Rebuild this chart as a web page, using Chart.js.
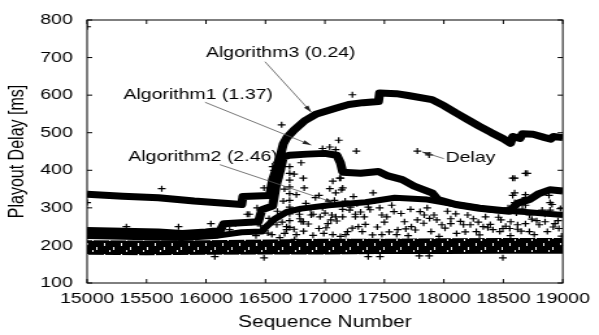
<!DOCTYPE html>
<html>
<head>
<meta charset="utf-8">
<script src="https://cdn.jsdelivr.net/npm/chart.js@4.4.0/dist/chart.umd.min.js"></script>
<style>
  html, body { margin: 0; padding: 0; background: #fff; overflow: hidden; }
  /* the source picture is stretched sideways, so the whole chart is too */
  #wrap { width: 461px; height: 335px; transform: scaleX(1.2993); transform-origin: 0 0; }
</style>
</head>
<body>
<div id="wrap"><canvas id="chart-playout" width="461" height="335"></canvas></div>
<script>
// axis ticks
const xTickValues = [15000, 15500, 16000, 16500, 17000, 17500, 18000, 18500, 19000];
const yTickValues = [100, 200, 300, 400, 500, 600, 700, 800];

// Algorithm3 (0.24) — the upper curve
const algo3Seq = [15000, 15300, 15600, 15900, 16300, 16310, 16535, 16560, 16610, 16650, 16680, 16740, 16830, 16930, 17090, 17200, 17320, 17450, 17460, 17600, 17700, 17900, 18000, 18100, 18200, 18300, 18400, 18500, 18560, 18580, 18640, 18660, 18750, 18850, 18900, 18920, 19000];
const algo3Delay = [336, 331, 327, 318, 309, 330, 333, 375, 420, 470, 487, 507, 532, 550, 565, 575, 580, 583, 606, 604, 599, 588, 572, 553, 535, 517, 500, 484, 472, 490, 485, 497, 496, 487, 483, 490, 487];

// Algorithm1 (1.37) — the stepped curve
const algo1Seq = [15000, 15300, 15600, 15800, 16000, 16120, 16150, 16440, 16470, 16560, 16590, 16625, 16650, 16700, 16850, 17000, 17100, 17130, 17150, 17300, 17450, 17530, 17650, 17750, 17900, 17950, 18100, 18300, 18550, 18580, 18620, 18720, 18800, 18890, 19000];
const algo1Delay = [240, 238, 236, 232, 236, 240, 258, 263, 295, 305, 360, 400, 435, 440, 443, 445, 440, 420, 395, 392, 397, 385, 375, 358, 340, 322, 309, 299, 291, 300, 312, 322, 338, 348, 345];

// Algorithm2 (2.46) — the smooth lower curve
const algo2Seq = [15000, 15500, 15800, 16100, 16300, 16470, 16500, 16580, 16680, 16800, 17033, 17340, 17587, 17860, 18140, 18413, 18686, 19000];
const algo2Delay = [225, 222, 220, 226, 235, 237, 248, 271, 289, 298, 307, 315, 327, 322, 307, 294, 289, 281];

// Delay: the dense floor of packets
const floorSeq = [15000, 15500, 16000, 16500, 17000, 17500, 18000, 18500, 19000];
const floorLow = [175, 174, 175, 176, 176, 177, 177, 178, 178];
const floorHigh = [214, 213, 214, 216, 218, 218, 219, 220, 220];

// Delay: single packets above / below the floor
const delaySeq = [15000, 15000, 15628, 15331, 15769, 16041, 16198, 16248, 16074, 16347, 16364, 16488, 16488, 16554,
  16570, 16570, 16570, 16570, 16595, 16636, 16661, 16678, 16678,
  16703, 16703, 16703, 16703, 16703, 16703, 16703, 16703, 16703, 16703,
  16744, 16760, 16785, 16802, 16818, 16826, 16818, 16884, 16901, 16950, 16950, 16959, 17025, 17041, 17058, 17066, 17066,
  17091, 17091, 17116, 17124, 17132, 17140, 17149, 17149, 17149, 17174, 17190, 17207, 17215, 17231, 17256, 17256, 17264,
  17281, 17314, 17364, 17364, 17405, 17463, 17479, 17479, 17521, 17562, 17603, 17612, 17669, 17727, 17777, 17777, 17793,
  17835, 17876, 17876, 17893, 17917, 17983, 18058, 18058, 18107, 18165, 18223, 18248, 18273, 18331, 18413, 18438, 18471,
  18496, 18496, 18554, 18562, 18579, 18595, 18579, 18595, 18595, 18620, 18686, 18686, 18686, 18686, 18686, 18702, 18719,
  18802, 18826, 18851, 18884, 18893, 18893, 18909, 18934, 18967,
  16420, 16520, 16620, 16820, 16900, 16990, 17130, 17230, 17400, 17540, 17700, 17760, 17960, 18180, 18300, 18370, 18560, 18650, 18760, 18870, 18990,
  16460, 16640, 16740, 16860, 17010, 17100, 17340, 17440, 17680, 17830, 18010, 18140, 18390, 18520, 18620, 18780, 18920,
  16790, 16880, 17050, 17300, 17500, 17880, 18100, 18290, 18460, 18740, 18960,
  16530, 16600, 16650, 16760, 16840, 16920, 16980, 17000, 17080, 17170, 17240, 17270, 17330, 17380, 17420, 17460, 17580,
  17640, 17720, 17800, 17860, 17940, 18030, 18200, 18350, 18480, 18540, 18610, 18660, 18720, 18850, 18980,
  16430, 16380, 16560, 16610, 16660, 16740, 16800, 16980, 17040, 17090];
const delayMs = [782, 314, 351, 250, 250, 258, 242, 258, 170, 283, 283, 353, 167, 229,
  400, 383, 366, 348, 255, 521, 232, 250, 242,
  410, 392, 374, 356, 338, 320, 302, 284, 266, 248,
  216, 229, 283, 263, 379, 353, 263, 281, 283, 333, 245, 276, 258, 351, 281, 371, 229,
  340, 276, 480, 379, 379, 348, 353, 296, 276, 229, 237, 294, 302, 601, 283, 276, 451,
  250, 237, 302, 170, 340, 170, 281, 229, 276, 307, 229, 242, 263, 250, 268, 451, 172,
  281, 441, 172, 237, 281, 255, 271, 258, 232, 255, 255, 271, 237, 250, 242, 294, 237,
  245, 167, 245, 263, 379, 379, 333, 340, 314, 255, 392, 335, 327, 307, 258, 392, 237,
  255, 294, 263, 333, 314, 294, 309, 258, 245,
  226, 233, 221, 238, 227, 232, 224, 246, 228, 236, 226, 241, 224, 236, 228, 247, 226, 238, 229, 237, 225,
  252, 262, 243, 257, 247, 265, 256, 249, 244, 259, 246, 264, 256, 251, 243, 266, 249,
  271, 296, 268, 289, 262, 272, 284, 262, 275, 270, 266,
  272, 291, 318, 335, 312, 327, 300, 286, 320, 318, 330, 311, 276, 295, 318, 300, 290,
  285, 296, 290, 300, 268, 291, 281, 276, 268, 300, 286, 297, 281, 283, 298,
  300, 262, 410, 380, 350, 390, 420, 458, 462, 455];

// labels with their arrows, in data units
const noteTexts = ["Algorithm3 (0.24)", "Algorithm1 (1.37)", "Algorithm2 (2.46)", "Delay"];
const noteAt = [[16000, 712], [15306, 600], [15347, 435], [18014, 432]];
const arrowFrom = [[16496, 689], [15992, 581], [16116, 415], [18000, 431]];
const arrowTo = [[16884, 555], [16884, 467], [17074, 314], [17818, 449]];

const FONT = "'Liberation Sans', Arial, Helvetica, sans-serif";
Chart.defaults.font.family = FONT;
Chart.defaults.color = "#000";

const pts = (xs, ys) => xs.map((x, i) => ({ x, y: ys[i] }));

// near-solid black with a few short white streaks, like stacked "+" marks
function floorTexture() {
  const c = document.createElement("canvas");
  c.width = 13; c.height = 11;
  const g = c.getContext("2d");
  g.fillStyle = "#000"; g.fillRect(0, 0, 13, 11);
  g.fillStyle = "#fff";
  g.fillRect(2, 1, 1, 3); g.fillRect(9, 5, 1, 3); g.fillRect(6, 8, 1, 2);
  return g.createPattern(c, "repeat");
}

function drawArrow(ctx, x1, y1, x2, y2) {
  ctx.beginPath(); ctx.moveTo(x1, y1); ctx.lineTo(x2, y2); ctx.stroke();
  const ang = Math.atan2(y2 - y1, x2 - x1), len = 7, spread = 0.3;
  ctx.beginPath();
  ctx.moveTo(x2, y2);
  ctx.lineTo(x2 - len * Math.cos(ang - spread), y2 - len * Math.sin(ang - spread));
  ctx.lineTo(x2 - len * Math.cos(ang + spread), y2 - len * Math.sin(ang + spread));
  ctx.closePath(); ctx.fill();
}

// gnuplot-style box with inward ticks on all four sides, plus the notes
const framePlugin = {
  id: "frame",
  afterDatasetsDraw(chart) {
    const { ctx, chartArea: a, scales: { x, y } } = chart;
    ctx.save();
    ctx.strokeStyle = "#000"; ctx.lineWidth = 1;
    ctx.strokeRect(a.left, a.top, a.right - a.left, a.bottom - a.top);
    ctx.beginPath();
    x.ticks.forEach((t) => {
      const px = x.getPixelForValue(t.value);
      ctx.moveTo(px, a.bottom); ctx.lineTo(px, a.bottom - 4);
      ctx.moveTo(px, a.top); ctx.lineTo(px, a.top + 4);
    });
    y.ticks.forEach((t) => {
      const py = y.getPixelForValue(t.value);
      ctx.moveTo(a.left, py); ctx.lineTo(a.left + 4, py);
      ctx.moveTo(a.right, py); ctx.lineTo(a.right - 4, py);
    });
    ctx.stroke();

    ctx.strokeStyle = "#555"; ctx.fillStyle = "#222"; ctx.lineWidth = 0.8;
    noteTexts.forEach((_, i) => {
      drawArrow(ctx,
        x.getPixelForValue(arrowFrom[i][0]), y.getPixelForValue(arrowFrom[i][1]),
        x.getPixelForValue(arrowTo[i][0]), y.getPixelForValue(arrowTo[i][1]));
    });
    ctx.fillStyle = "#000";
    ctx.font = `15px ${FONT}`;
    ctx.textAlign = "left"; ctx.textBaseline = "middle";
    noteTexts.forEach((txt, i) => {
      ctx.fillText(txt, x.getPixelForValue(noteAt[i][0]), y.getPixelForValue(noteAt[i][1]));
    });
    ctx.restore();
  },
};

const algoStyle = {
  type: "line", showLine: true, borderColor: "#000", borderWidth: 7,
  pointRadius: 0, tension: 0, borderJoinStyle: "round", borderCapStyle: "butt", order: 1,
};

new Chart(document.getElementById("chart-playout"), {
  type: "scatter",
  data: {
    datasets: [
      { label: "floor-low", type: "line", data: pts(floorSeq, floorLow), borderWidth: 0, pointRadius: 0, fill: false, order: 3 },
      { label: "floor-high", type: "line", data: pts(floorSeq, floorHigh), borderWidth: 0, pointRadius: 0,
        fill: "-1", backgroundColor: floorTexture(), order: 3 },
      { label: "Delay", data: pts(delaySeq, delayMs), pointStyle: "cross", pointRadius: 3,
        borderColor: "#000", borderWidth: 1.2, order: 2 },
      { label: "Algorithm3", data: pts(algo3Seq, algo3Delay), ...algoStyle },
      { label: "Algorithm1", data: pts(algo1Seq, algo1Delay), ...algoStyle },
      { label: "Algorithm2", data: pts(algo2Seq, algo2Delay), ...algoStyle, borderWidth: 6 },
    ],
  },
  options: {
    responsive: false,
    animation: false,
    devicePixelRatio: 1,
    layout: { padding: { left: 0, right: 21.5, top: 12, bottom: 0 } },
    plugins: { legend: { display: false }, tooltip: { enabled: false } },
    scales: {
      x: {
        type: "linear", min: 15000, max: 19000,
        afterBuildTicks: (s) => { s.ticks = xTickValues.map((v) => ({ value: v })); },
        afterFit: (s) => { s.height = 52; },
        ticks: { autoSkip: false, maxRotation: 0, padding: 7, font: { size: 15 }, color: "#000",
          callback: (v) => String(v) },
        grid: { display: false, drawTicks: false },
        border: { display: false },
        title: { display: true, text: "Sequence Number", font: { size: 16 }, color: "#000", padding: { top: 0, bottom: 3 } },
      },
      y: {
        type: "linear", min: 100, max: 800,
        afterBuildTicks: (s) => { s.ticks = yTickValues.map((v) => ({ value: v })); },
        afterFit: (s) => { s.width = 67; },
        ticks: { padding: 11, font: { size: 15 }, color: "#000", callback: (v) => String(v) },
        grid: { display: false, drawTicks: false },
        border: { display: false },
        title: { display: true, text: "Playout Delay [ms]", font: { size: 16 }, color: "#000", padding: { top: 4, bottom: 0 } },
      },
    },
  },
  plugins: [framePlugin],
});
</script>
</body>
</html>
